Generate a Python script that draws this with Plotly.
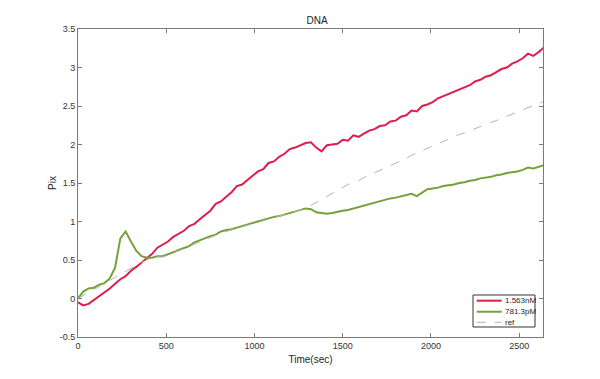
import plotly.graph_objects as go

time_sec = [i * 30 for i in range(89)]

red_1563nM = [-0.05, -0.09, -0.07, -0.02, 0.03, 0.07, 0.13, 0.19, 0.25, 0.29,
              0.36, 0.41, 0.47, 0.53, 0.58, 0.66, 0.70, 0.74, 0.80, 0.84,
              0.88, 0.94, 0.97, 1.03, 1.08, 1.14, 1.23, 1.26, 1.32, 1.38,
              1.46, 1.48, 1.54, 1.60, 1.65, 1.68, 1.76, 1.78, 1.84, 1.88,
              1.94, 1.96, 1.99, 2.02, 2.03, 1.96, 1.91, 1.99, 2.00, 2.01,
              2.06, 2.05, 2.12, 2.10, 2.14, 2.18, 2.20, 2.24, 2.25, 2.30,
              2.31, 2.36, 2.38, 2.44, 2.43, 2.50, 2.52, 2.55, 2.60, 2.63,
              2.66, 2.69, 2.71, 2.74, 2.77, 2.82, 2.84, 2.88, 2.90, 2.94,
              2.98, 3.00, 3.05, 3.08, 3.12, 3.18, 3.15, 3.20, 3.26]

green_7813pM = [0.00, 0.09, 0.13, 0.14, 0.18, 0.20, 0.26, 0.40, 0.78, 0.87,
                0.74, 0.62, 0.55, 0.53, 0.53, 0.55, 0.55, 0.57, 0.60, 0.63,
                0.66, 0.68, 0.73, 0.76, 0.78, 0.81, 0.83, 0.87, 0.89, 0.90,
                0.92, 0.94, 0.97, 0.98, 1.01, 1.02, 1.04, 1.06, 1.07, 1.09,
                1.11, 1.12, 1.15, 1.17, 1.16, 1.12, 1.11, 1.10, 1.11, 1.13,
                1.14, 1.15, 1.17, 1.19, 1.20, 1.22, 1.24, 1.27, 1.29, 1.30,
                1.31, 1.33, 1.35, 1.36, 1.33, 1.38, 1.42, 1.43, 1.44, 1.46,
                1.47, 1.48, 1.50, 1.51, 1.53, 1.54, 1.56, 1.57, 1.58, 1.60,
                1.61, 1.63, 1.64, 1.65, 1.67, 1.70, 1.69, 1.71, 1.73]

ref_values = [0.00, 0.04, 0.08, 0.12, 0.16, 0.20, 0.24, 0.28, 0.32, 0.36,
              0.40, 0.44, 0.47, 0.50, 0.52, 0.54, 0.54, 0.56, 0.59, 0.62,
              0.65, 0.68, 0.71, 0.74, 0.77, 0.80, 0.82, 0.85, 0.87, 0.89,
              0.91, 0.93, 0.95, 0.97, 0.99, 1.01, 1.03, 1.05, 1.07, 1.09,
              1.11, 1.13, 1.15, 1.17, 1.21, 1.25, 1.29, 1.33, 1.37, 1.41,
              1.45, 1.48, 1.51, 1.53, 1.57, 1.60, 1.63, 1.67, 1.70, 1.73,
              1.76, 1.78, 1.82, 1.86, 1.89, 1.92, 1.96, 1.99, 2.02, 2.04,
              2.07, 2.10, 2.13, 2.15, 2.18, 2.21, 2.24, 2.26, 2.29, 2.31,
              2.34, 2.37, 2.39, 2.42, 2.45, 2.48, 2.50, 2.53, 2.56]

series_names = ["1.563nM", "781.3pM", "ref"]
series_colors = ["#dc1e4a", "#76a03a", "#b4b4b4"]
x_ticks = [0, 500, 1000, 1500, 2000, 2500]
y_ticks = [-0.5, 0, 0.5, 1, 1.5, 2, 2.5, 3, 3.5]
y_tick_text = ["-0.5", "0", "0.5", "1", "1.5", "2", "2.5", "3", "3.5"]

fig = go.Figure()
fig.add_trace(go.Scatter(x=time_sec, y=red_1563nM, mode="lines", name=series_names[0],
                         line=dict(color=series_colors[0], width=2)))
fig.add_trace(go.Scatter(x=time_sec, y=green_7813pM, mode="lines", name=series_names[1],
                         line=dict(color=series_colors[1], width=2)))
fig.add_trace(go.Scatter(x=time_sec, y=ref_values, mode="lines", name=series_names[2],
                         line=dict(color=series_colors[2], width=1, dash="dash")))

axis_common = dict(showline=True, linecolor="#7a7a7a", linewidth=1, mirror="ticks",
                   ticks="inside", ticklen=4, tickcolor="#7a7a7a", showgrid=False,
                   zeroline=False, tickfont=dict(size=9, color="#333333"))

# compact MATLAB-style legend drawn in paper coordinates
shapes = [dict(type="rect", xref="paper", yref="paper", x0=0.8495, x1=0.9828,
               y0=0.0325, y1=0.1364, line=dict(color="#333333", width=1),
               fillcolor="white", layer="above")]
annotations = []
leg_y = [0.1179, 0.0821, 0.0477]
leg_widths = [2, 2, 1]
leg_dash = ["solid", "solid", "dash"]
for name, col, yy, w, d in zip(series_names, series_colors, leg_y, leg_widths, leg_dash):
    shapes.append(dict(type="line", xref="paper", yref="paper", x0=0.8574, x1=0.9112,
                       y0=yy, y1=yy, line=dict(color=col, width=w, dash=d), layer="above"))
    annotations.append(dict(text=name, xref="paper", yref="paper", x=0.913, y=yy,
                            xanchor="left", yanchor="middle", showarrow=False,
                            font=dict(size=8, color="#262626")))

fig.update_layout(
    width=600, height=379,
    margin=dict(l=70, r=65, t=21, b=50),
    paper_bgcolor="white", plot_bgcolor="white",
    font=dict(family="Liberation Sans, Arial, sans-serif", color="#262626"),
    title=dict(text="DNA", x=0.515, xanchor="center", y=0.966, yanchor="middle",
               font=dict(size=10, color="#262626")),
    xaxis=dict(range=[0, 2635], tickvals=x_ticks,
               title=dict(text="Time(sec)", font=dict(size=10), standoff=6), **axis_common),
    yaxis=dict(range=[-0.5, 3.5], tickvals=y_ticks, ticktext=y_tick_text,
               title=dict(text="Pix", font=dict(size=10), standoff=1), **axis_common),
    showlegend=False,
    shapes=shapes,
    annotations=annotations,
)

fig.write_html("out.html")
